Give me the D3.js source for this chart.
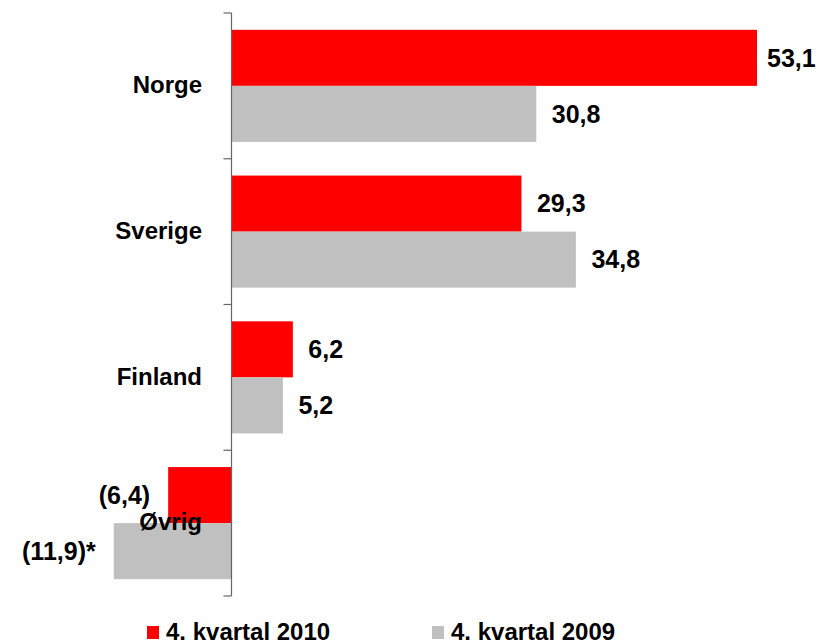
<!DOCTYPE html>
<html>
<head>
<meta charset="utf-8">
<script src="https://cdn.jsdelivr.net/npm/d3@7"></script>
<style>
  body { margin: 0; background: #fff; }
  svg text { font-family: "Liberation Sans", Arial, sans-serif; font-weight: bold; fill: #000; }
</style>
</head>
<body>
<div id="chart"></div>
<script>
// Data
const categories = ["Norge", "Sverige", "Finland", "Øvrig"];
const seriesNames = ["4. kvartal 2010", "4. kvartal 2009"];
const values2010 = [53.1, 29.3, 6.2, -6.4];
const values2009 = [30.8, 34.8, 5.2, -11.9];
const labels2010 = ["53,1", "29,3", "6,2", "(6,4)"];
const labels2009 = ["30,8", "34,8", "5,2", "(11,9)*"];
const colors = ["#ff0000", "#c0c0c0"];

const width = 821, height = 644;

const svg = d3.select("#chart")
  .append("svg")
    .attr("width", width)
    .attr("height", height);

// Scales
const x = d3.scaleLinear().domain([0, 53.1]).range([231.5, 757]);
const y0 = d3.scaleBand().domain(categories).range([13, 596]).padding(0);
const y1 = d3.scaleBand().domain(seriesNames).range([0, y0.bandwidth()]).paddingInner(0).paddingOuter(0.3);

// Build rows
const rows = [];
categories.forEach(function(c, i) {
  rows.push({ cat: c, series: seriesNames[0], value: values2010[i], label: labels2010[i], color: colors[0] });
  rows.push({ cat: c, series: seriesNames[1], value: values2009[i], label: labels2009[i], color: colors[1] });
});

// Bars
svg.selectAll("rect.bar")
  .data(rows)
  .enter()
  .append("rect")
    .attr("class", "bar")
    .attr("x", d => Math.min(x(0), x(d.value)))
    .attr("y", d => y0(d.cat) + y1(d.series))
    .attr("width", d => Math.abs(x(d.value) - x(0)))
    .attr("height", y1.bandwidth())
    .attr("fill", d => d.color);

// Axis line and ticks at category boundaries
const axisG = svg.append("g").attr("stroke", "#666").attr("stroke-width", 1.2);
axisG.append("line")
  .attr("x1", x(0)).attr("x2", x(0))
  .attr("y1", y0.range()[0]).attr("y2", y0.range()[1]);
const boundaries = categories.map(c => y0(c)).concat([y0.range()[1]]);
axisG.selectAll("line.tick")
  .data(boundaries)
  .enter()
  .append("line")
    .attr("class", "tick")
    .attr("x1", x(0) - 8).attr("x2", x(0))
    .attr("y1", d => d).attr("y2", d => d);

// Category labels
svg.selectAll("text.cat")
  .data(categories)
  .enter()
  .append("text")
    .attr("class", "cat")
    .attr("x", 202)
    .attr("y", d => y0(d) + y0.bandwidth() / 2)
    .attr("dy", "0.3em")
    .attr("text-anchor", "end")
    .style("font-size", "24px")
    .text(d => d);

// Value labels
svg.selectAll("text.val")
  .data(rows)
  .enter()
  .append("text")
    .attr("class", "val")
    .attr("y", d => y0(d.cat) + y1(d.series) + y1.bandwidth() / 2)
    .attr("dy", "0.35em")
    .style("font-size", "25px")
    .attr("text-anchor", d => d.value < 0 ? "end" : "start")
    .attr("x", d => d.value < 0 ? x(d.value) - 18 : Math.min(x(d.value) + 15.5, width - 54))
    .text(d => d.label);

// Legend
const legend = svg.selectAll("g.legend")
  .data(seriesNames)
  .enter()
  .append("g")
    .attr("class", "legend")
    .attr("transform", (d, i) => "translate(" + (i === 0 ? 147 : 432) + ",0)");
legend.append("rect")
  .attr("y", 626)
  .attr("width", 12)
  .attr("height", 13)
  .attr("fill", (d, i) => colors[i]);
legend.append("text")
  .attr("x", 19)
  .attr("y", 640)
  .style("font-size", "24px")
  .text(d => d);
</script>
</body>
</html>
